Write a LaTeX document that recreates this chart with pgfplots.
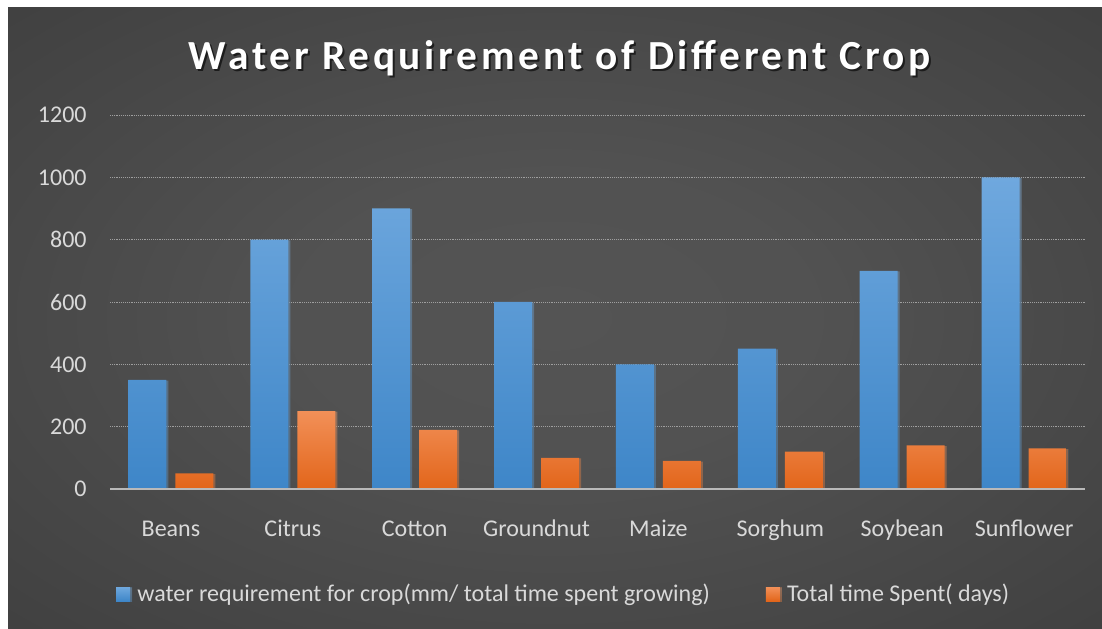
\documentclass[border=0pt]{standalone}
\usepackage{pgfplots}
\pgfplotsset{compat=1.18}
\usepackage{fontspec}
\setmainfont{Carlito}
\newfontfamily\titlefont[LetterSpace=9]{Carlito}
\usetikzlibrary{shadows}

\definecolor{bgedge}{HTML}{262626}
\definecolor{bgmid}{HTML}{545454}
\definecolor{txt}{HTML}{D9D9D9}
\definecolor{bluetop}{HTML}{6FA8DE}
\definecolor{bluebot}{HTML}{3E86C8}
\definecolor{orangetop}{HTML}{F29058}
\definecolor{orangebot}{HTML}{E2651A}

\pgfdeclareradialshading{bgglow}{\pgfpoint{0bp}{0bp}}{%
  color(0bp)=(bgmid); color(12bp)=(bgmid!95!bgedge); color(72bp)=(bgedge)}

\begin{document}
\begin{tikzpicture}
\useasboundingbox (0,0) rectangle (826.5pt,471pt);
\fill[white] (0,0) rectangle (826.5pt,471pt);
\shade[shading=bgglow] (6pt,0) rectangle (826.5pt,465pt);

% title with a soft drop shadow
\node[anchor=base, text=black, opacity=0.6, font=\titlefont\bfseries\fontsize{31}{37}\selectfont]
  at (421.5pt,417pt) {Water Requirement of Different Crop};
\node[anchor=base, text=white, font=\titlefont\bfseries\fontsize{31}{37}\selectfont]
  at (420pt,418.5pt) {Water Requirement of Different Crop};

\begin{axis}[
  at={(82.5pt,104.25pt)}, anchor=south west,
  scale only axis, width=731.25pt, height=280.5pt,
  xmin=-0.5, xmax=7.5, ymin=0, ymax=1200,
  ytick={0,200,...,1200},
  xtick={0,...,7},
  xticklabels={Beans,Citrus,Cotton,Groundnut,Maize,Sorghum,Soybean,Sunflower},
  axis line style={draw=none},
  major tick length=0pt,
  ymajorgrids,
  major grid style={densely dotted, color=gray!75, line width=0.6pt},
  tick label style={text=txt, font=\fontsize{18}{21}\selectfont},
  /pgf/number format/assume math mode=true,
  /pgf/number format/1000 sep={},
  xticklabel style={yshift=-19pt, text height=13pt, text depth=4pt},
  yticklabel style={xshift=-14pt},
  ybar=6.7pt, bar width=28.5pt,
  legend columns=2,
  legend style={at={(0.4656,-0.281)}, anchor=center, draw=none, fill=none,
    text=txt, font=\fontsize{18}{21}\selectfont,
    /tikz/every even column/.append style={column sep=40pt}},
  legend image code/.code={\fill[#1] (0pt,-5.25pt) rectangle (10.5pt,5.25pt);
    \path (14pt,0pt);},
]
\addplot[draw=none, top color=bluetop, bottom color=bluebot,
  drop shadow={shadow xshift=1.5pt, shadow yshift=-0.5pt, opacity=0.35}]
  coordinates {(0,350) (1,800) (2,900) (3,600) (4,400) (5,450) (6,700) (7,1000)};
\addlegendentry{water requirement for crop(mm/ total time spent growing)}
\addplot[draw=none, top color=orangetop, bottom color=orangebot,
  drop shadow={shadow xshift=1.5pt, shadow yshift=-0.5pt, opacity=0.35}]
  coordinates {(0,50) (1,250) (2,190) (3,100) (4,90) (5,120) (6,140) (7,130)};
\addlegendentry{Total time Spent( days)}
\draw[color=gray!55!white, line width=1.6pt] (axis cs:-0.5,0) -- (axis cs:7.5,0);
\end{axis}
\end{tikzpicture}
\end{document}
